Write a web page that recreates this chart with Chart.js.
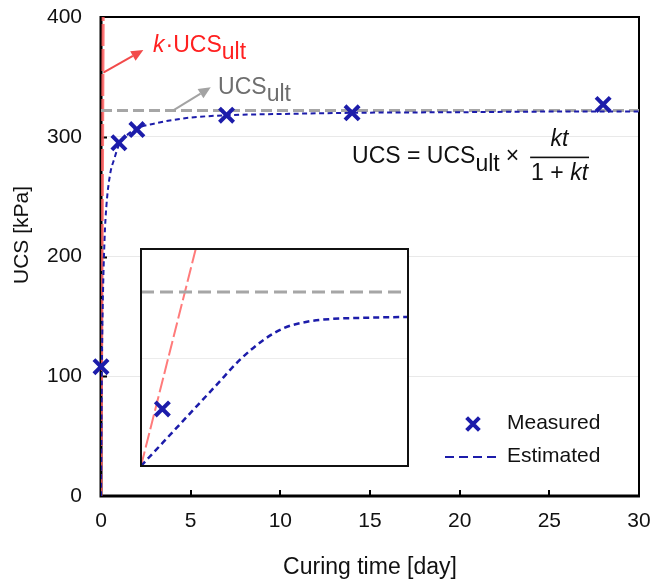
<!DOCTYPE html>
<html>
<head>
<meta charset="utf-8">
<script src="https://cdn.jsdelivr.net/npm/chart.js@4/dist/chart.umd.min.js"></script>
<style>
  html, body { margin: 0; padding: 0; background: #fff; }
  #wrap { position: relative; width: 654px; height: 583px; }
  #main { position: absolute; left: 0; top: 0; }
  #inset { position: absolute; left: 140px; top: 248px; }
</style>
</head>
<body>
<div id="wrap">
  <canvas id="main" width="654" height="583"></canvas>
  <canvas id="inset" width="269" height="219"></canvas>
</div>
<script>
// ---- measured strength gain ----
const curingDays = [0, 1, 2, 7, 14, 28];
const measuredUcs = [108, 295, 306, 318, 320, 327];

// ---- hyperbolic fit, UCS = UCSult * kt / (1 + kt) ----
const fitDays = [0, 0.05, 0.1, 0.2, 0.3, 0.5, 0.75, 1, 1.5, 2, 3, 4, 5, 7, 10, 14, 20, 25, 30];
const fitUcs  = [0, 107, 161, 215, 242, 268, 282, 293, 302, 307, 311, 314, 316, 318, 319, 320, 320.5, 321, 321];

// ultimate strength asymptote and initial tangent (slope k*UCSult)
const ultDays = [0, 30];
const ultUcs  = [322, 322];
const tangentDays = [0, 0.12];
const tangentUcs  = [0, 400];

// axis ticks
const xTicks = [0, 5, 10, 15, 20, 25, 30];
const yTicks = [0, 100, 200, 300, 400];

// ---- schematic close-up (normalised 0-100 units) ----
const zoomFitX = [0, 8.5, 20.9, 28.4, 37.1, 45.9, 53.4, 62.2, 70.8, 83.3, 100];
const zoomFitY = [0, 11.2, 27.6, 37.5, 49, 58.1, 63.5, 66.5, 67.7, 68.3, 68.7];
const zoomUltX = [0, 100];
const zoomUltY = [80.2, 80.2];
const zoomTangentX = [0, 20.5];
const zoomTangentY = [0, 100];
const zoomPointX = [8];
const zoomPointY = [26.3];
const zoomGrid = 50;

const BLUE = '#1c1caa';
const GREY = '#a6a6a6';
const RED_LINE = 'rgba(255,95,95,0.85)';
const FONT = '"Liberation Sans", Arial, Helvetica, sans-serif';

const pts = (xs, ys) => xs.map((x, i) => ({ x, y: ys[i] }));

function arrow(ctx, x1, y1, x2, y2, color) {
  const ang = Math.atan2(y2 - y1, x2 - x1);
  const len = 12, hw = 5.5;
  const bx = x2 - Math.cos(ang) * len, by = y2 - Math.sin(ang) * len;
  ctx.save();
  ctx.strokeStyle = color; ctx.fillStyle = color; ctx.lineWidth = 2;
  ctx.beginPath(); ctx.moveTo(x1, y1); ctx.lineTo(bx, by); ctx.stroke();
  ctx.beginPath();
  ctx.moveTo(x2, y2);
  ctx.lineTo(bx + Math.sin(ang) * hw, by - Math.cos(ang) * hw);
  ctx.lineTo(bx - Math.sin(ang) * hw, by + Math.cos(ang) * hw);
  ctx.closePath(); ctx.fill();
  ctx.restore();
}

// frame, inward ticks
const framePlugin = {
  id: 'frame',
  beforeDatasetsDraw(chart) {
    const { ctx, chartArea: a, scales } = chart;
    ctx.save();
    ctx.strokeStyle = '#000';
    ctx.lineWidth = 2;
    ctx.beginPath();
    ctx.moveTo(a.left, a.top); ctx.lineTo(a.right, a.top); ctx.lineTo(a.right, a.bottom);
    ctx.stroke();
    ctx.lineWidth = 3;
    ctx.beginPath();
    ctx.moveTo(a.left, a.top - 1); ctx.lineTo(a.left, a.bottom); ctx.lineTo(a.right + 1, a.bottom);
    ctx.stroke();
    ctx.lineWidth = 2;
    ctx.beginPath();
    yTicks.slice(1, -1).forEach(v => {
      const y = Math.round(scales.y.getPixelForValue(v)) + 0.5;
      ctx.moveTo(a.left, y); ctx.lineTo(a.left + 6, y);
    });
    xTicks.slice(1, -1).forEach(v => {
      const x = Math.round(scales.x.getPixelForValue(v));
      ctx.moveTo(x, a.bottom); ctx.lineTo(x, a.bottom - 6);
    });
    ctx.stroke();
    ctx.restore();
  }
};

// labels, arrows, equation, legend, y title
const notesPlugin = {
  id: 'notes',
  afterDatasetsDraw(chart) {
    const { ctx, chartArea: a, scales } = chart;
    const P = (x, y) => [scales.x.getPixelForValue(x), scales.y.getPixelForValue(y)];
    const f = (sz, style) => (style ? style + ' ' : '') + sz + 'px ' + FONT;
    ctx.save();
    ctx.textBaseline = 'alphabetic';
    ctx.textAlign = 'left';

    // k·UCSult label
    let [s1x, s1y] = P(0.13, 353.5), [t1x, t1y] = P(2.36, 372.4);
    arrow(ctx, s1x, s1y, t1x, t1y, '#f24a4a');
    let [lx, ly] = P(2.9, 371);
    ctx.fillStyle = '#ff2020';
    ctx.font = f(23, 'italic');
    ctx.fillText('k', lx, ly);
    lx += ctx.measureText('k').width + 1;
    ctx.font = f(23);
    ctx.fillText('\u00b7UCS', lx, ly);
    lx += ctx.measureText('\u00b7UCS').width;
    ctx.fillText('ult', lx, ly + 7);

    // UCSult label
    let [s2x, s2y] = P(4.03, 322), [t2x, t2y] = P(6.12, 341.3);
    arrow(ctx, s2x, s2y, t2x, t2y, '#a3a3a3');
    let [gx, gy] = P(6.53, 335.7);
    ctx.fillStyle = '#6e6e6e';
    ctx.fillText('UCS', gx, gy);
    gx += ctx.measureText('UCS').width;
    ctx.fillText('ult', gx, gy + 7.5);

    // model equation
    let [ex, ey] = P(14, 278);
    ctx.fillStyle = '#111';
    ctx.font = f(23);
    ctx.fillText('UCS = UCS', ex, ey);
    ex += ctx.measureText('UCS = UCS').width;
    ctx.fillText('ult', ex, ey + 8);
    ex += ctx.measureText('ult').width + 6;
    ctx.fillText('\u00d7', ex, ey);
    ex += ctx.measureText('\u00d7').width + 11;
    ctx.font = f(23);
    const wOne = ctx.measureText('1 + ').width;
    ctx.font = f(23, 'italic');
    const wKt = ctx.measureText('kt').width;
    const barW = wOne + wKt + 2;
    const cx = ex + barW / 2;
    ctx.fillText('kt', cx - wKt / 2, ey - 17);
    ctx.fillRect(ex, ey - 6.5, barW, 1.6);
    ctx.font = f(23);
    ctx.fillText('1 + ', ex + 1, ey + 17);
    ctx.font = f(23, 'italic');
    ctx.fillText('kt', ex + 1 + wOne, ey + 17);

    // legend
    const mx = a.right - 166, my = a.bottom - 72;
    ctx.save();
    ctx.strokeStyle = BLUE; ctx.lineWidth = 4;
    const r = 9 * Math.SQRT1_2;
    ctx.beginPath();
    ctx.moveTo(mx - r, my - r); ctx.lineTo(mx + r, my + r);
    ctx.moveTo(mx - r, my + r); ctx.lineTo(mx + r, my - r);
    ctx.stroke();
    ctx.lineWidth = 2; ctx.setLineDash([9, 5]);
    ctx.beginPath();
    ctx.moveTo(a.right - 194, a.bottom - 39); ctx.lineTo(a.right - 141, a.bottom - 39);
    ctx.stroke();
    ctx.restore();
    ctx.fillStyle = '#111';
    ctx.font = f(21);
    ctx.textBaseline = 'middle';
    ctx.fillText('Measured', a.right - 132, my - 1);
    ctx.fillText('Estimated', a.right - 132, a.bottom - 40);

    // y axis title
    ctx.translate(22, a.top + 218);
    ctx.rotate(-Math.PI / 2);
    ctx.textAlign = 'center';
    ctx.font = f(21);
    ctx.fillText('UCS [kPa]', 0, 0);
    ctx.restore();
  }
};

new Chart(document.getElementById('main'), {
  type: 'scatter',
  data: {
    datasets: [
      {
        label: 'Measured',
        data: pts(curingDays, measuredUcs),
        pointStyle: 'crossRot', pointRadius: 10, pointHoverRadius: 10,
        borderColor: BLUE, backgroundColor: BLUE, pointBorderWidth: 4,
        showLine: false, clip: false
      },
      {
        label: 'Estimated',
        data: pts(fitDays, fitUcs),
        showLine: true, borderColor: BLUE, borderWidth: 2, borderDash: [5, 3.5],
        pointRadius: 0, cubicInterpolationMode: 'monotone', fill: false
      },
      {
        label: 'UCSult',
        data: pts(ultDays, ultUcs),
        showLine: true, borderColor: GREY, borderWidth: 3, borderDash: [11, 5],
        pointRadius: 0
      },
      {
        label: 'k·UCSult',
        data: pts(tangentDays, tangentUcs),
        showLine: true, borderColor: RED_LINE, borderWidth: 3, borderDash: [22, 3],
        pointRadius: 0
      }
    ]
  },
  options: {
    responsive: false,
    devicePixelRatio: 1,
    animation: false,
    events: [],
    layout: { autoPadding: false, padding: { top: 17, right: 15, left: 0, bottom: 0 } },
    plugins: { legend: { display: false }, tooltip: { enabled: false } },
    scales: {
      x: {
        type: 'linear', min: 0, max: 30,
        afterBuildTicks: s => { s.ticks = xTicks.map(v => ({ value: v })); },
        ticks: { color: '#111', font: { family: FONT, size: 21 }, padding: 13, maxRotation: 0 },
        grid: { display: false, drawTicks: false },
        border: { display: false },
        title: { display: true, text: 'Curing time [day]', color: '#111',
                 font: { family: FONT, size: 23 }, padding: { top: 0, bottom: 2 } },
        afterFit: s => { s.height = 87; s.paddingLeft = 0; s.paddingRight = 0; }
      },
      y: {
        type: 'linear', min: 0, max: 400,
        afterBuildTicks: s => { s.ticks = yTicks.map(v => ({ value: v })); },
        ticks: { color: '#111', font: { family: FONT, size: 21 }, padding: 19 },
        grid: {
          drawTicks: false, lineWidth: 1,
          color: c => (c.tick && c.tick.value > 0 && c.tick.value < 400) ? '#e9e9e9' : 'rgba(0,0,0,0)'
        },
        border: { display: false },
        afterFit: s => { s.width = 101; s.paddingTop = 0; s.paddingBottom = 0; }
      }
    }
  },
  plugins: [framePlugin, notesPlugin]
});

// close-up sketch of the early-age response
const insetFrame = {
  id: 'insetFrame',
  beforeDraw(chart) {
    const { ctx } = chart;
    ctx.save(); ctx.fillStyle = '#fff';
    ctx.fillRect(0, 0, chart.width, chart.height); ctx.restore();
  },
  beforeDatasetsDraw(chart) {
    const { ctx, chartArea: a, scales } = chart;
    const y = Math.round(scales.y.getPixelForValue(zoomGrid)) + 0.5;
    ctx.save(); ctx.strokeStyle = '#ececec'; ctx.lineWidth = 1;
    ctx.beginPath(); ctx.moveTo(a.left, y); ctx.lineTo(a.right, y); ctx.stroke();
    ctx.restore();
  },
  afterDatasetsDraw(chart) {
    const { ctx, chartArea: a } = chart;
    ctx.save(); ctx.strokeStyle = '#111'; ctx.lineWidth = 2;
    ctx.strokeRect(a.left, a.top, a.right - a.left, a.bottom - a.top);
    ctx.restore();
  }
};

new Chart(document.getElementById('inset'), {
  type: 'scatter',
  data: {
    datasets: [
      {
        data: pts(zoomPointX, zoomPointY),
        pointStyle: 'crossRot', pointRadius: 10, pointBorderWidth: 4,
        borderColor: BLUE, backgroundColor: BLUE, showLine: false
      },
      {
        data: pts(zoomFitX, zoomFitY),
        showLine: true, borderColor: BLUE, borderWidth: 2.5, borderDash: [6, 4],
        pointRadius: 0, cubicInterpolationMode: 'monotone'
      },
      {
        data: pts(zoomUltX, zoomUltY),
        showLine: true, borderColor: GREY, borderWidth: 3, borderDash: [13, 6],
        pointRadius: 0
      },
      {
        data: pts(zoomTangentX, zoomTangentY),
        showLine: true, borderColor: '#ff7b7b', borderWidth: 2, borderDash: [15, 4],
        pointRadius: 0
      }
    ]
  },
  options: {
    responsive: false,
    devicePixelRatio: 1,
    animation: false,
    events: [],
    layout: { autoPadding: false, padding: 1 },
    plugins: { legend: { display: false }, tooltip: { enabled: false } },
    scales: {
      x: { type: 'linear', min: 0, max: 100, display: false },
      y: { type: 'linear', min: 0, max: 100, display: false }
    }
  },
  plugins: [insetFrame]
});
</script>
</body>
</html>
